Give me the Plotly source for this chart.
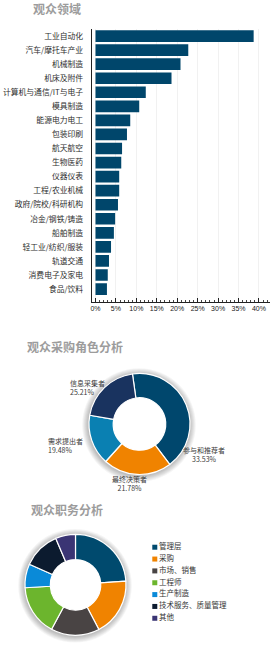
import plotly.graph_objects as go

# ---------------- data ----------------
sector_names = ["工业自动化", "汽车/摩托车产业", "机械制造", "机床及附件", "计算机与通信/IT与电子",
                "模具制造", "能源电力电工", "包装印刷", "航天航空", "生物医药", "仪器仪表",
                "工程/农业机械", "政府/院校/科研机构", "冶金/钢铁/铸造", "船舶制造",
                "轻工业/纺织/服装", "轨道交通", "消费电子及家电", "食品/饮料"]
sector_pct = [38.7, 22.7, 20.8, 18.6, 12.3, 10.7, 8.5, 7.7, 6.5, 6.3, 5.8,
              5.8, 5.5, 4.8, 4.5, 3.8, 3.3, 3.0, 2.8]
pct_ticks = [0, 5, 10, 15, 20, 25, 30, 35, 40]
pct_tick_labels = ["0%", "5%", "10%", "15%", "20%", "25%", "30%", "35%", "40%"]

role_names = ["参与和推荐者", "最终决策者", "需求提出者", "信息采集者"]
role_label_pct = ["33.53%", "21.78%", "19.48%", "25.21%"]
role_share_drawn = [42.0, 21.9, 16.1, 20.0]   # slice sizes as drawn in the picture
role_colors = ["#00476d", "#f08300", "#0a80b2", "#19335f"]

job_names = ["管理层", "采购", "市场、销售", "工程师", "生产制造", "技术服务、质量管理", "其他"]
job_share = [23.8, 18.5, 15.5, 16.2, 7.6, 11.9, 6.4]
job_colors = ["#004a6e", "#f08300", "#494444", "#6cb52d", "#0a8ad8", "#0c1b2f", "#3a3574"]

titles = ["观众领域", "观众采购角色分析", "观众职务分析"]

# ---------------- geometry helpers ----------------
W, H = 277, 660
CJK = "Noto Sans CJK SC"
def px(x): return x / W
def py(y): return (H - y) / H

fig = go.Figure()

# ---------------- bar chart ----------------
fig.add_trace(go.Bar(
    x=sector_pct, y=sector_names, orientation="h",
    marker=dict(color="#00466b", line=dict(width=0)),
    xaxis="x", yaxis="y", showlegend=False, hoverinfo="skip"))

# ---------------- donut 1 ----------------
c1x, c1y, r1, h1 = 139.5, 424.0, 50.5, 0.52
fig.add_trace(go.Pie(
    labels=role_names, values=role_share_drawn, hole=h1, sort=False,
    direction="clockwise", rotation=-8,
    marker=dict(colors=role_colors, line=dict(color="white", width=1.2)),
    textinfo="none", hoverinfo="skip", showlegend=False,
    domain=dict(x=[px(c1x - r1), px(c1x + r1)], y=[py(c1y + r1), py(c1y - r1)])))

# ---------------- donut 2 ----------------
c2x, c2y, r2, h2 = 75.5, 584.8, 50.5, 0.5
fig.add_trace(go.Pie(
    labels=job_names, values=job_share, hole=h2, sort=False,
    direction="clockwise", rotation=0,
    marker=dict(colors=job_colors, line=dict(color="white", width=1.2)),
    textinfo="none", hoverinfo="skip", showlegend=False,
    domain=dict(x=[px(c2x - r2), px(c2x + r2)], y=[py(c2y + r2), py(c2y - r2)])))

# ---------------- custom legend for donut 2 ----------------
fig.add_trace(go.Scatter(
    x=[0] * len(job_names), y=job_names, mode="markers+text",
    text=job_names, textposition="middle right",
    textfont=dict(family=CJK, size=7.5, color="#333333"),
    marker=dict(symbol="square", size=5, color=job_colors, line=dict(width=0)),
    xaxis="x2", yaxis="y2", showlegend=False, hoverinfo="skip", cliponaxis=False))

# ---------------- shadows for donuts (with white hole cover) ----------------
shapes = []
for (cx, cy, r, h) in [(c1x, c1y, r1, h1), (c2x, c2y, r2, h2)]:
    for k in range(1, 8):
        rr = r + k * 0.9
        shapes.append(dict(type="circle", xref="paper", yref="paper", layer="below",
                           x0=px(cx - rr - 0.5), x1=px(cx + rr - 0.5),
                           y0=py(cy + rr + 1), y1=py(cy - rr + 1),
                           fillcolor="rgba(0,0,0,0.04)", line=dict(width=0)))
    rh = r * h + 2
    shapes.append(dict(type="circle", xref="paper", yref="paper", layer="below",
                       x0=px(cx - rh), x1=px(cx + rh), y0=py(cy + rh), y1=py(cy - rh),
                       fillcolor="white", line=dict(width=0)))

# ---------------- annotations ----------------
ann = []
title_pos = [(31, 8.5), (24.5, 346.7), (28.5, 509)]
for t, (x, y) in zip(titles, title_pos):
    ann.append(dict(text=t, x=px(x), y=py(y), xref="paper", yref="paper",
                    xanchor="left", yanchor="middle", showarrow=False,
                    font=dict(family=CJK, size=12, color="#9c9c9c", weight="bold")))

role_label_pos = [(204, 454.3, "center"), (129.3, 483.5, "center"),
                  (46, 445.2, "left"), (67.5, 387.5, "left")]
for name, pct, (x, y, anc) in zip(role_names, role_label_pct, role_label_pos):
    ann.append(dict(text=f"{name}<br>{pct}", x=px(x), y=py(y), xref="paper", yref="paper",
                    xanchor=anc, yanchor="middle", align=anc, showarrow=False,
                    font=dict(family=CJK, size=7, color="#3a3a3a")))

fig.update_layout(
    width=W, height=H, margin=dict(l=0, r=0, t=0, b=0),
    paper_bgcolor="white", plot_bgcolor="white",
    bargap=0.17, hovermode=False,
    shapes=shapes, annotations=ann,
    xaxis=dict(domain=[px(91.7), px(270)], range=[-0.93, 42.7],
               tickvals=pct_ticks, ticktext=pct_tick_labels,
               showgrid=True, gridcolor="#f1f1f1", gridwidth=1, zeroline=False,
               showline=True, linecolor="#222222", linewidth=1,
               ticks="inside", ticklen=4, tickwidth=1, tickcolor="#222222",
               minor=dict(dtick=1, tick0=0, ticks="inside", ticklen=2, tickwidth=1,
                          tickcolor="#444444", showgrid=False),
               tickfont=dict(family="Liberation Sans", size=7, color="#222222"),
               anchor="y", fixedrange=True),
    yaxis=dict(domain=[py(301.7), py(29.3)], type="category",
               categoryorder="array", categoryarray=sector_names,
               range=[18.9, -0.48], showgrid=False, zeroline=False,
               showline=True, linecolor="#222222", linewidth=1,
               ticks="", ticklabelstandoff=6,
               tickfont=dict(family=CJK, size=7.8, color="#2e2e2e"),
               anchor="x", fixedrange=True),
    xaxis2=dict(domain=[0.5, 1.0], range=[-1, 7.5], visible=False, anchor="y2", fixedrange=True),
    yaxis2=dict(domain=[py(624.2), py(541.3)], type="category",
                categoryorder="array", categoryarray=job_names,
                range=[6.5, -0.5], visible=False, anchor="x2", fixedrange=True),
)

fig.write_html("out.html", config=dict(displayModeBar=False))
